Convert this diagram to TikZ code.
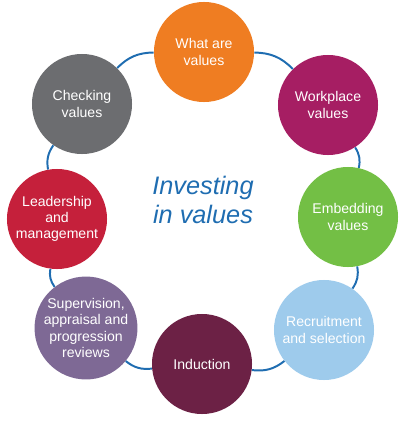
\documentclass[tikz,border=0pt]{standalone}
\usepackage{fontspec}
\setmainfont{Liberation Sans}
\usetikzlibrary{positioning}
\definecolor{ivOrange}{HTML}{EF7D22}
\definecolor{ivMagenta}{HTML}{A61E63}
\definecolor{ivGreen}{HTML}{73BF45}
\definecolor{ivSky}{HTML}{9ECBEC}
\definecolor{ivMaroon}{HTML}{6C2145}
\definecolor{ivLilac}{HTML}{7E6995}
\definecolor{ivRed}{HTML}{C5203B}
\definecolor{ivGrey}{HTML}{6C6D70}
\definecolor{ivBlue}{HTML}{1F6DB1}
\newcommand{\hubfont}{\rmfamily\itshape\fontsize{18}{21}\selectfont}

\begin{document}
\begin{tikzpicture}[x=0.025cm,y=-0.025cm,
    stage/.style={circle,fill=#1,text=white,minimum size=2.5cm,inner sep=0pt,
      align=center,font=\fontsize{10}{11.5}\selectfont},
    ring/.style={draw=ivBlue,line width=1.4pt,bend left=22.5}]
  \useasboundingbox (0,0) rectangle (404,421);
  % the eight stages, clockwise from the top
  \node[stage=ivOrange]  (what)        at (204,52)  {What are\\values};
  \node[stage=ivMagenta] (workplace)   at (328,105) {Workplace\\values};
  \node[stage=ivGreen]   (embedding)   at (348,217) {Embedding\\values};
  \node[stage=ivSky]     (recruitment) at (324,330) {Recruitment\\and selection};
  \node[stage=ivMaroon]  (induction)   at (202,364) {Induction};
  \node[stage=ivLilac]   (supervision) at (86,328)  {Supervision,\\appraisal and\\progression\\reviews};
  \node[stage=ivRed]     (leadership)  at (57,219)  {Leadership\\and\\management};
  \node[stage=ivGrey]    (checking)    at (82,104)  {Checking\\values};
  % ring
  \foreach \from/\to in {what/workplace,workplace/embedding,embedding/recruitment,
      recruitment/induction,induction/supervision,supervision/leadership,
      leadership/checking,checking/what}
    \draw[ring] (\from) to (\to);
  \node[text=ivBlue,align=center,font=\hubfont] (hub) at (203,200) {Investing\\in values};
\end{tikzpicture}
\end{document}
